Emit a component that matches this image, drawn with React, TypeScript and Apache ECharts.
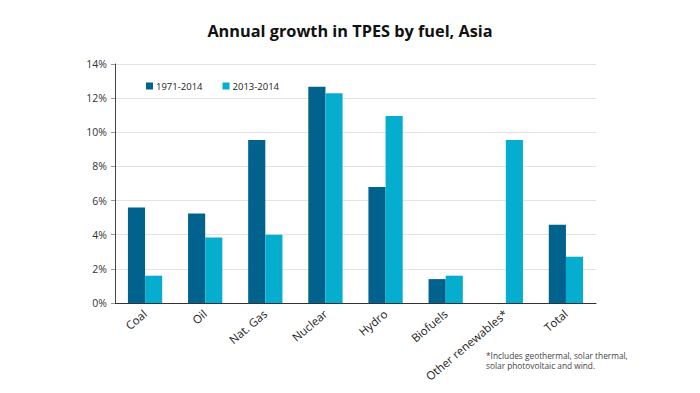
import React, { useEffect, useRef } from "react";
import * as echarts from "echarts";

const categories = ["Coal", "Oil", "Nat. Gas", "Nuclear", "Hydro", "Biofuels", "Other renewables*", "Total"];
const series1971 = [5.6, 5.25, 9.55, 12.67, 6.8, 1.4, null, 4.59];
const series2013 = [1.6, 3.84, 4.0, 12.28, 10.95, 1.6, 9.55, 2.71];
const yTicks = [0, 2, 4, 6, 8, 10, 12, 14];

const FONT = "'Open Sans', 'DejaVu Sans', sans-serif";

export default function App() {
  const ref = useRef<HTMLDivElement>(null);
  useEffect(() => {
    if (!ref.current) return;
    const chart = echarts.init(ref.current, undefined, { renderer: "svg" });
    chart.setOption({
      animation: false,
      backgroundColor: "#ffffff",
      title: {
        text: "Annual growth in TPES by fuel, Asia",
        left: "center",
        top: 18,
        textStyle: { fontFamily: FONT, fontSize: 16.3, fontWeight: "bold", color: "#111" },
      },
      legend: {
        left: 141,
        top: 76,
        itemWidth: 7,
        itemHeight: 7,
        itemGap: 20,
        icon: "rect",
        textStyle: { fontFamily: FONT, fontSize: 9.5, color: "#222", padding: [0, 0, 0, -2] },
        data: ["1971-2014", "2013-2014"],
      },
      grid: { left: 115, right: 104, top: 64, bottom: 90, containLabel: false },
      xAxis: {
        type: "category",
        data: categories,
        axisLine: { lineStyle: { color: "#333", width: 1 } },
        axisTick: { show: false },
        axisLabel: {
          rotate: 40,
          interval: 0,
          fontFamily: FONT,
          fontSize: 11.5,
          color: "#222",
          margin: 9,
        },
      },
      yAxis: {
        type: "value",
        min: yTicks[0],
        max: yTicks[yTicks.length - 1],
        interval: 2,
        axisLine: { show: true, lineStyle: { color: "#444", width: 1 } },
        axisTick: { show: true, length: 4, lineStyle: { color: "#999" } },
        splitLine: { lineStyle: { color: "#e3e3e3", width: 1 } },
        axisLabel: {
          formatter: (v: number) => `${v}%`,
          fontFamily: FONT,
          fontSize: 10.5,
          color: "#333",
          margin: 8,
        },
      },
      series: [
        {
          name: "1971-2014",
          type: "bar",
          data: series1971,
          barGap: "0%",
          barCategoryGap: "43%",
          itemStyle: { color: "#01628E" },
        },
        {
          name: "2013-2014",
          type: "bar",
          data: series2013,
          itemStyle: { color: "#05AECF" },
        },
      ],
      graphic: [
        {
          type: "text",
          left: 486,
          top: 351,
          style: {
            text: "*Includes geothermal, solar thermal,\nsolar photovoltaic and wind.",
            fontFamily: FONT,
            fontSize: 8.3,
            lineHeight: 9.5,
            fill: "#444",
          },
        },
      ],
    });
    return () => chart.dispose();
  }, []);
  return <div ref={ref} style={{ width: 700, height: 393, position: "absolute", left: 0, top: 0 }} />;
}
